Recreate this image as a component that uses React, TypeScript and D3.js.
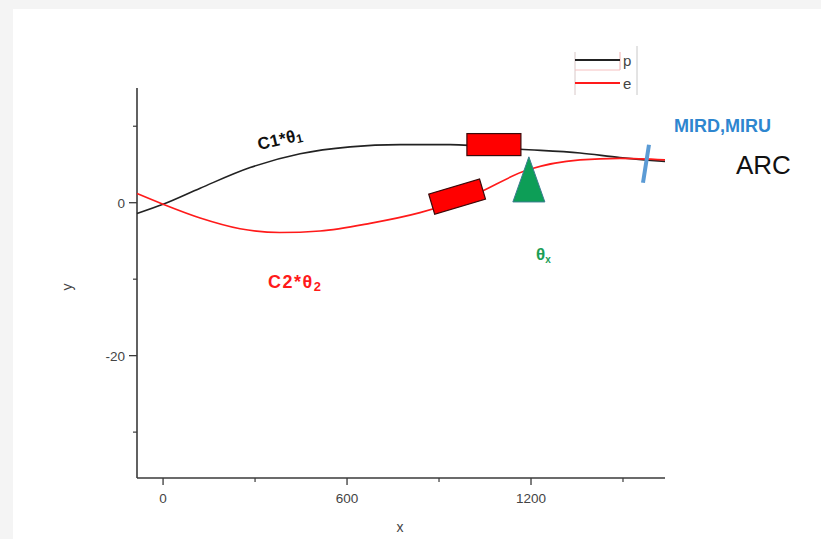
import React from "react";
import * as d3 from "d3";

// Beam trajectories along the line (x in mm, y in mm)
const pX = [-85, 0, 121, 284, 447, 610, 773, 936, 1164, 1360, 1490, 1637];
const pY = [-1.4, -0.2, 1.9, 4.6, 6.4, 7.3, 7.6, 7.6, 7.0, 6.5, 5.9, 5.4];
const eX = [-85, 0, 121, 251, 381, 512, 675, 838, 1001, 1190, 1360, 1490, 1637];
const eY = [1.2, -0.2, -2.0, -3.4, -3.9, -3.7, -2.7, -1.3, 0.8, 4.3, 5.6, 5.8, 5.6];

const xMajorTicks = [0, 600, 1200];
const xMinorTicks = [300, 900, 1500];
const yMajorTicks = [0, -20];
const yMinorTicks = [10, -10, -30];

const seriesNames = ["p", "e"];

// Beamline element locations (data units)
const magnetP = { x: 1079, y: 7.6 };
const magnetE = { x: 959, y: 0.8 };
const crossing = { x: 1193, yTop: 6.0, yBase: 0.1 };
const mirror = { x: 1575, y: 5.1 };

const W = 821;
const H = 539;

export default function App() {
  const x = d3.scaleLinear().domain([-85, 1637]).range([137, 665]);
  const y = d3.scaleLinear().domain([-36, 15]).range([478, 88]);

  const line = d3
    .line<[number, number]>()
    .x((d) => x(d[0]))
    .y((d) => y(d[1]))
    .curve(d3.curveMonotoneX);

  const pPath = line(pX.map((v, i) => [v, pY[i]]) as [number, number][]) || "";
  const ePath = line(eX.map((v, i) => [v, eY[i]]) as [number, number][]) || "";

  const axisColor = "#3a3a3a";
  const tickFont = "Liberation Sans, Arial, sans-serif";
  const labelFont = "Liberation Sans, Arial, sans-serif";

  const mpx = x(magnetP.x);
  const mpy = y(magnetP.y);
  const mex = x(magnetE.x);
  const mey = y(magnetE.y);
  const tx = x(crossing.x);
  const tTop = y(crossing.yTop);
  const tBase = y(crossing.yBase);
  const mx = x(mirror.x);
  const my = y(mirror.y);

  return (
    <svg
      width={W}
      height={H}
      style={{ position: "absolute", left: 0, top: 0, display: "block" }}
    >
      <rect x={0} y={0} width={W} height={H} fill="#f4f4f4" />
      <rect x={13} y={9} width={W - 13} height={H - 9} fill="#ffffff" />

      {/* axes */}
      <line x1={137} x2={137} y1={y(15)} y2={y(-36)} stroke={axisColor} strokeWidth={1.6} />
      <line x1={137} x2={665} y1={y(-36)} y2={y(-36)} stroke={axisColor} strokeWidth={1.6} />

      {xMajorTicks.map((t) => (
        <g key={"xm" + t}>
          <line x1={x(t)} x2={x(t)} y1={478} y2={485} stroke={axisColor} strokeWidth={1.3} />
          <text
            x={x(t)}
            y={503}
            textAnchor="middle"
            fontSize={13.5}
            fontFamily={tickFont}
            fill="#444"
          >
            {t}
          </text>
        </g>
      ))}
      {xMinorTicks.map((t) => (
        <line key={"xn" + t} x1={x(t)} x2={x(t)} y1={478} y2={482} stroke={axisColor} strokeWidth={1.2} />
      ))}
      {yMajorTicks.map((t) => (
        <g key={"ym" + t}>
          <line x1={129} x2={137} y1={y(t)} y2={y(t)} stroke={axisColor} strokeWidth={1.3} />
          <text
            x={125}
            y={y(t) + 5}
            textAnchor="end"
            fontSize={13.5}
            fontFamily={tickFont}
            fill="#444"
          >
            {t}
          </text>
        </g>
      ))}
      {yMinorTicks.map((t) => (
        <line key={"yn" + t} x1={133} x2={137} y1={y(t)} y2={y(t)} stroke={axisColor} strokeWidth={1.2} />
      ))}

      <text x={400} y={532} textAnchor="middle" fontSize={14} fontFamily={tickFont} fill="#444">
        x
      </text>
      <text
        transform={`translate(72,287) rotate(-90)`}
        textAnchor="middle"
        fontSize={14}
        fontFamily={tickFont}
        fill="#444"
      >
        y
      </text>

      {/* trajectories */}
      <path d={pPath} fill="none" stroke="#222" strokeWidth={1.6} />
      <path d={ePath} fill="none" stroke="#ff1a1a" strokeWidth={1.6} />

      {/* dipole on the p line */}
      <rect
        x={mpx - 27}
        y={mpy - 11}
        width={54}
        height={22}
        fill="#ff0000"
        stroke="#3a0a0a"
        strokeWidth={1.2}
      />
      {/* dipole on the e line */}
      <rect
        x={-26.5}
        y={-10.5}
        width={53}
        height={21}
        fill="#ff0000"
        stroke="#3a0a0a"
        strokeWidth={1.2}
        transform={`translate(${mex},${mey}) rotate(-16.5)`}
      />
      {/* crossing point */}
      <path
        d={`M${tx},${tTop} L${tx + 16},${tBase} L${tx - 16},${tBase} Z`}
        fill="#0d9e57"
        stroke="#3b7d8f"
        strokeWidth={1}
      />
      {/* mirror */}
      <line
        x1={mx + 3}
        y1={my - 19}
        x2={mx - 3}
        y2={my + 19}
        stroke="#5b9bd5"
        strokeWidth={4}
      />

      {/* annotations */}
      <text
        transform={`translate(259,150) rotate(-13)`}
        fontSize={17}
        fontWeight="bold"
        fontFamily={labelFont}
        fill="#111"
        letterSpacing={0.3}
      >
        C1*θ
        <tspan fontSize={12} dy={2}>1</tspan>
      </text>
      <text
        x={268}
        y={288}
        fontSize={18}
        fontWeight="bold"
        fontFamily={labelFont}
        fill="#ff1a1a"
        letterSpacing={1.5}
      >
        C2*θ
        <tspan fontSize={13} dy={3}>2</tspan>
      </text>
      <text
        x={536}
        y={260}
        fontSize={17}
        fontWeight="bold"
        fontFamily={labelFont}
        fill="#1a9e55"
      >
        θ
        <tspan fontSize={10} dy={3}>x</tspan>
      </text>
      <text
        x={674}
        y={132}
        fontSize={18}
        fontWeight="bold"
        fontFamily={labelFont}
        fill="#2e86cf"
      >
        MIRD,MIRU
      </text>
      <text x={736} y={174} fontSize={26} fontFamily={labelFont} fill="#111">
        ARC
      </text>

      {/* legend */}
      <g>
        <line x1={575} x2={575} y1={52} y2={95} stroke="#d8c8c8" strokeWidth={1} />
        <line x1={637} x2={637} y1={46} y2={95} stroke="#c8c8c8" strokeWidth={1} />
        <line x1={620} x2={620} y1={52} y2={70} stroke="#f0b0b0" strokeWidth={1} />
        <line x1={575} x2={620} y1={70} y2={70} stroke="#f6c0c0" strokeWidth={1} />
        <line x1={575} x2={620} y1={60} y2={60} stroke="#222" strokeWidth={1.8} />
        <line x1={575} x2={620} y1={83} y2={83} stroke="#ff1a1a" strokeWidth={1.8} />
        <text x={623} y={66} fontSize={15} fontFamily={tickFont} fill="#444">
          {seriesNames[0]}
        </text>
        <text x={623} y={89} fontSize={15} fontFamily={tickFont} fill="#444">
          {seriesNames[1]}
        </text>
      </g>
    </svg>
  );
}
